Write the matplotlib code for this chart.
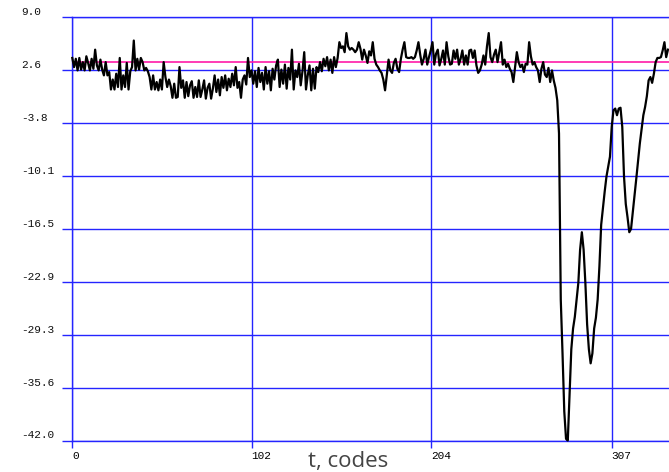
import numpy as np
import matplotlib
matplotlib.use("Agg")
import matplotlib.pyplot as plt
from matplotlib.transforms import blended_transform_factory

# signal, one value per code (t = 0 .. 339)
signal = [
    4.1, 3.0, 4.0, 2.6, 4.1, 2.7, 3.6, 2.6, 4.3, 3.5,
    2.6, 4.0, 2.8, 5.1, 3.2, 2.6, 3.9, 2.7, 2.0, 3.6,
    2.0, 2.4, 0.3, 1.5, 0.3, 2.2, 0.6, 4.1, 0.3, 2.0,
    0.6, 3.5, 0.3, 2.5, 3.0, 6.2, 2.6, 4.0, 2.7, 4.1,
    3.6, 2.6, 2.9, 2.5, 1.8, 0.3, 2.0, 0.3, 1.2, 0.2,
    1.5, 0.3, 3.6, 1.8, 0.6, 1.5, 0.7, -0.7, 1.0, -0.7,
    -0.6, 3.0, 0.5, 1.4, -0.7, 1.2, -0.5, 0.8, 1.3, -0.7,
    0.6, -0.6, 1.4, -0.6, 0.3, 1.4, -0.8, 0.5, 1.0, -0.8,
    0.4, 2.0, 0.0, 1.5, -0.4, 1.8, 0.5, 2.0, 0.2, 1.6,
    0.6, 2.2, 0.8, 3.0, 0.5, 1.2, -0.7, 1.5, 2.0, 0.9,
    4.1, 1.8, 2.6, 1.0, 2.5, 0.6, 2.9, 1.2, 2.3, 0.3,
    3.0, 1.0, 2.5, 0.2, 2.8, 1.5, 3.2, 3.9, 0.6, 2.7,
    1.0, 3.3, 0.4, 2.9, 1.5, 5.1, 0.3, 2.6, 1.8, 3.4,
    0.8, 2.5, 4.8, 0.3, 2.0, 3.2, 0.2, 2.8, 0.4, 3.0,
    2.4, 3.6, 2.5, 4.0, 3.1, 4.2, 2.6, 3.9, 2.3, 4.2,
    3.0, 4.1, 6.0, 5.3, 5.5, 4.8, 7.1, 5.5, 5.1, 5.3,
    5.1, 4.8, 5.1, 6.0, 5.2, 3.9, 5.1, 4.4, 3.5, 4.9,
    4.4, 6.0, 4.0, 3.3, 3.0, 2.6, 2.3, 1.5, 0.2, 2.0,
    3.9, 2.6, 2.3, 3.5, 4.0, 2.8, 2.4, 4.0, 5.1, 6.0,
    4.2, 4.1, 4.1, 4.2, 4.0, 4.2, 5.0, 6.0, 4.5, 3.3,
    4.0, 5.1, 3.3, 4.2, 5.0, 6.0, 3.3, 4.6, 5.1, 3.2,
    4.0, 5.0, 3.3, 6.0, 4.3, 3.3, 3.4, 5.0, 4.0, 5.1,
    3.3, 4.0, 5.0, 3.3, 4.4, 3.3, 5.0, 5.1, 4.1, 5.0,
    3.2, 2.3, 2.6, 3.3, 4.4, 3.3, 5.5, 7.1, 4.2, 3.6,
    4.5, 5.1, 3.6, 4.8, 6.0, 3.3, 3.9, 3.0, 3.4, 2.8,
    2.4, 1.2, 3.0, 4.8, 3.6, 3.0, 3.3, 2.4, 3.4, 3.3,
    6.0, 4.3, 3.3, 3.6, 3.0, 2.6, 1.2, 2.8, 3.6, 2.1,
    1.8, 2.9, 1.2, 2.6, 1.4, 0.5, -1.0, -5.0, -25.0, -31.5,
    -38.5, -41.8, -42.0, -36.5, -31.0, -28.5, -27.1, -25.0, -23.0, -19.0,
    -16.9, -19.0, -23.0, -28.0, -31.0, -32.7, -31.5, -28.5, -27.2, -25.0,
    -21.0, -16.0, -14.0, -12.0, -10.2, -9.0, -7.8, -4.2, -2.2, -2.0,
    -2.8, -2.0, -1.9, -4.2, -10.2, -13.5, -15.1, -16.9, -16.5, -14.5,
    -12.5, -10.4, -8.3, -6.2, -4.5, -2.8, -1.8, -0.5, 1.4, 1.8,
    1.1, 2.2, 3.6, 4.1, 4.1, 4.2, 5.0, 6.0, 4.2, 5.1,
]
t = np.arange(len(signal))

level = 3.6
ytick_labels = ["-42.0", "-35.6", "-29.3", "-22.9", "-16.5", "-10.1", "-3.8", "2.6", "9.0"]
xticks = [0, 102, 204, 307]
xtick_labels = ["0", "102", "204", "307"]

blue = "#2424ff"
mono = "Liberation Mono"

fig = plt.figure(figsize=(6.69, 4.72), dpi=100)
ax = fig.add_axes([72.3 / 669, 31.5 / 472, 1 - 72.3 / 669, 423.2 / 472])

yticks = np.linspace(-42.0, 9.0, len(ytick_labels))
ax.set_xlim(0, 339.6)
ax.set_ylim(-42.0, 9.0)
ax.set_xticks(xticks)
ax.set_yticks(yticks)
ax.set_xticklabels(xtick_labels, fontfamily=mono, fontsize=8)
for lab in ax.get_xticklabels():
    lab.set_horizontalalignment("left")
ax.set_yticklabels([])
ax.grid(True, color=blue, lw=1.0)
ax.tick_params(axis="x", color=blue, length=5, width=1.0, pad=2.5)
ax.tick_params(axis="y", color=blue, length=7.2, width=1.0)
for side in ["left", "bottom", "top"]:
    ax.spines[side].set_color(blue)
    ax.spines[side].set_linewidth(1.0)
ax.spines["right"].set_visible(False)

tr = blended_transform_factory(fig.transFigure, ax.transData)
for v, s in zip(yticks, ytick_labels):
    ax.text(21 / 669, v, s, transform=tr, ha="left", va="bottom",
            fontfamily=mono, fontsize=8, color="#111111")

ax.axhline(level, color="#ff1aa8", lw=1.2, zorder=3)
ax.plot(t, signal, color="black", lw=1.6, zorder=4, clip_on=False)

fig.text(348 / 669, 10 / 472, "t, codes", ha="center", va="center",
         fontfamily="Open Sans", fontsize=16, color="#444444")

fig.savefig("out.png", dpi=100)
